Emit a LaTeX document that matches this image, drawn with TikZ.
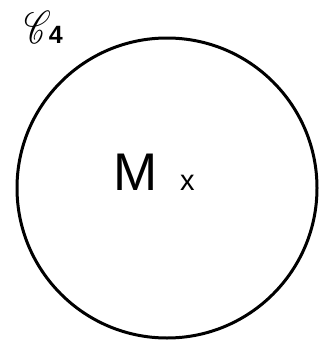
\documentclass[tikz,border=0pt]{standalone}
\usepackage{fontspec}
\setmainfont{Liberation Sans}
\usepackage{mathrsfs}
\tikzset{
  chartline/.style={draw=black,line width=3pt,circle,inner sep=0pt,minimum size=300pt},
  bigtext/.style={font=\fontsize{53}{60}\selectfont,inner sep=0pt},
  smalltext/.style={font=\fontsize{29}{34}\selectfont,inner sep=0pt}
}
\begin{document}
\begin{tikzpicture}[x=1pt,y=-1pt]
  \useasboundingbox (0,0) rectangle (325,340);
  % the chart
  \node[chartline] (chart) at (167,188) {};
  \node[bigtext,anchor=base west] (mname) at (113,190) {M};
  \node[smalltext,anchor=base west] (pt) at (180,190) {x};
  % its label
  \node[inner sep=0pt,anchor=base west] (clabel) at (24,43)
    {\scalebox{3.2}[4.6]{$\mathscr{C}$}\kern-2pt\fontsize{25}{30}\selectfont\textbf{4}};
\end{tikzpicture}
\end{document}
